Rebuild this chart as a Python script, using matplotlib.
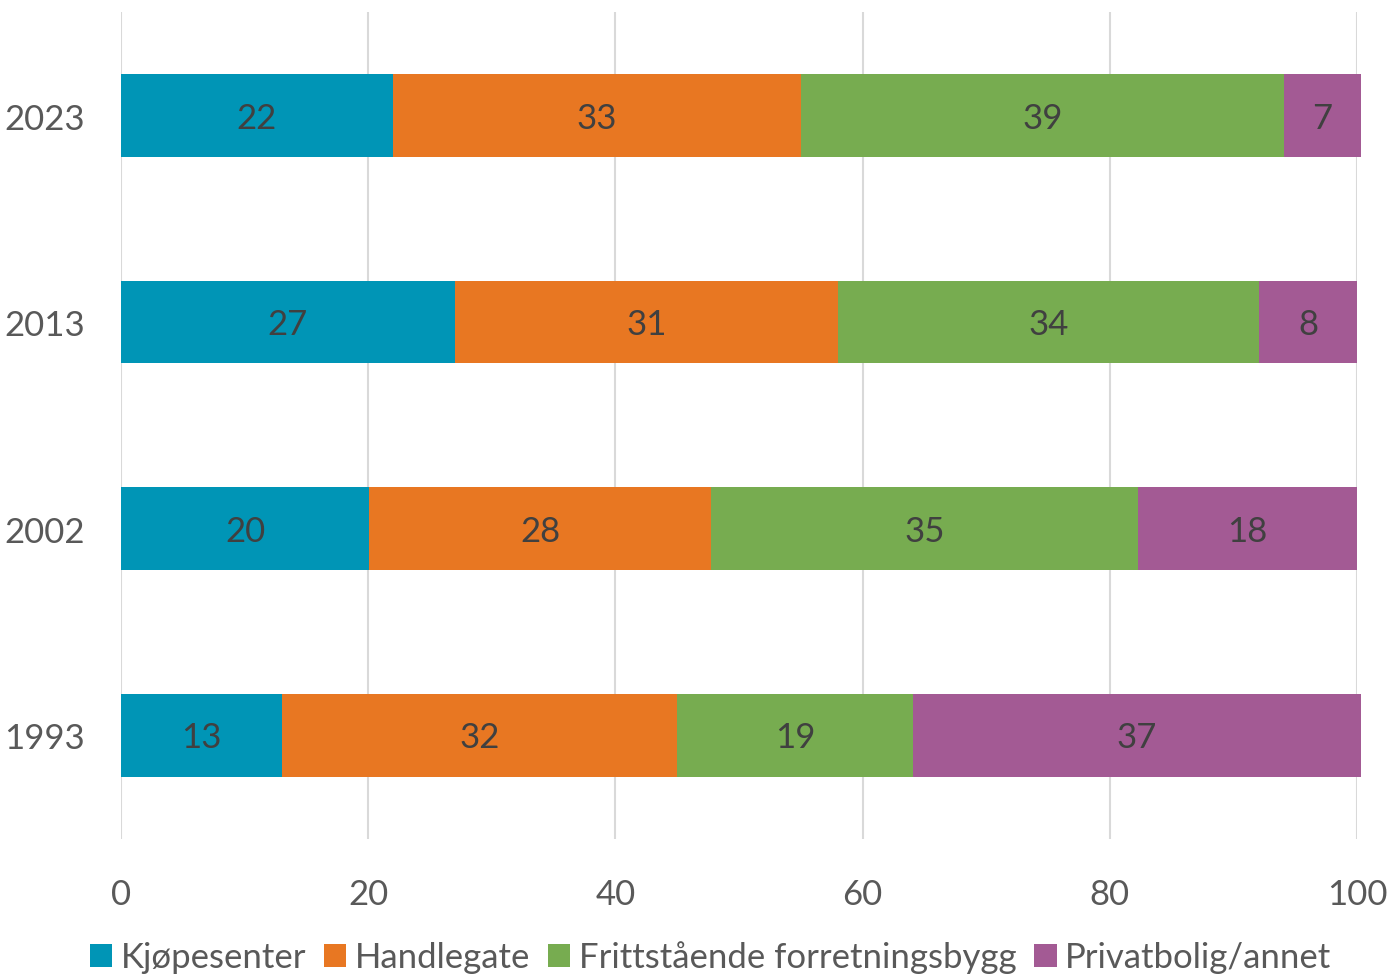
import matplotlib
matplotlib.use("Agg")
import matplotlib.pyplot as plt
import numpy as np

plt.rcParams['font.family'] = ['Lato', 'DejaVu Sans']

years = ["1993", "2002", "2013", "2023"]
series = ["Kjøpesenter", "Handlegate", "Frittstående forretningsbygg", "Privatbolig/annet"]
# bar widths (percent)
kjopesenter = [13.0, 20.1, 27.0, 22.0]
handlegate = [32.0, 27.6, 31.0, 33.0]
frittstaende = [19.1, 34.6, 34.1, 39.1]
privat = [36.2, 17.7, 7.9, 6.2]
# labels as printed in the chart
labels = [
    [13, 20, 27, 22],
    [32, 28, 31, 33],
    [19, 35, 34, 39],
    [37, 18, 8, 7],
]
colors = ["#0095B6", "#E87722", "#77AC50", "#A35A94"]

fig = plt.figure(figsize=(13.91, 9.78), dpi=100)
ax = fig.add_axes([0.087, 0.1415, 0.8886, 0.845])

y = np.arange(len(years))
left = np.zeros(len(years))
for vals, labs, name, col in zip([kjopesenter, handlegate, frittstaende, privat], labels, series, colors):
    bars = ax.barh(y, vals, left=left, height=0.4, color=col, label=name, zorder=3, clip_on=False)
    for b, lab in zip(bars, labs):
        ax.text(b.get_x() + b.get_width() / 2, b.get_y() + b.get_height() / 2 - 0.01, str(lab),
                ha="center", va="center", fontsize=25, color="#404040", zorder=4)
    left += np.array(vals)

ax.set_xlim(0, 100)
ax.set_ylim(-0.5, 3.5)
ax.set_xticks(range(0, 101, 20))
ax.set_yticks(y)
ax.set_yticklabels(years)
ax.tick_params(axis="both", length=0, labelsize=25, labelcolor="#595959")
ax.tick_params(axis="x", pad=28)
ax.tick_params(axis="y", pad=26)
ax.grid(axis="x", color="#D9D9D9", linewidth=1.5, zorder=0)
for s in ax.spines.values():
    s.set_visible(False)

leg = ax.legend(loc="upper center", bbox_to_anchor=(0.477, -0.094), ncol=4, frameon=False,
                fontsize=25, handlelength=0.65, handleheight=0.65, handletextpad=0.25,
                columnspacing=0.5, labelcolor="#595959", borderpad=0.2)

fig.savefig("out.png", dpi=100)
